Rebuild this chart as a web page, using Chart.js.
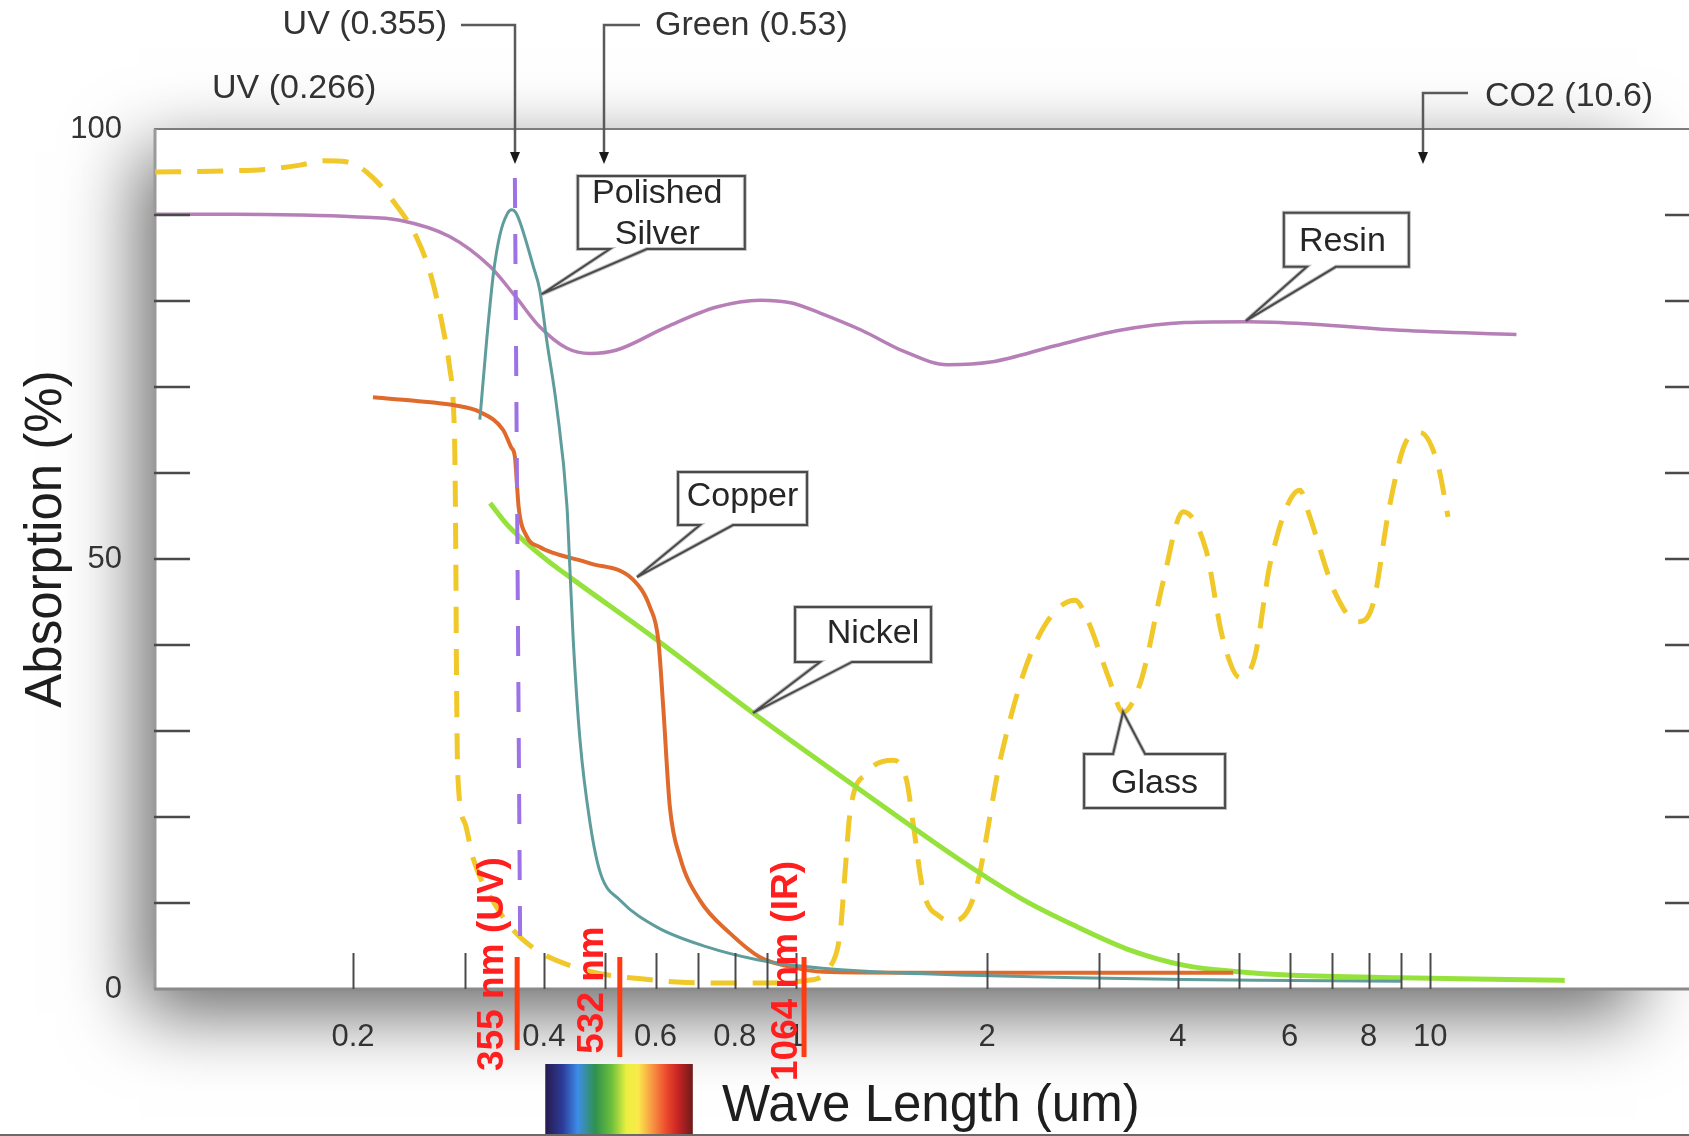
<!DOCTYPE html>
<html>
<head>
<meta charset="utf-8">
<title>Absorption vs Wave Length</title>
<script src="https://cdn.jsdelivr.net/npm/chart.js@4.4.1/dist/chart.umd.min.js"></script>
<style>
  html, body { margin: 0; padding: 0; background: #fff; overflow: hidden; }
  #wrap { width: 1689px; height: 1136px; }
</style>
</head>
<body>
<div id="wrap"><canvas id="absChart" width="1689" height="1136"></canvas></div>
<script>
// Wavelength (um) and absorption (%)
const glassWl = [0.0975, 0.12, 0.145, 0.165, 0.18, 0.195, 0.21, 0.231, 0.253, 0.266, 0.277, 0.284, 0.288, 0.2895, 0.2905, 0.2912, 0.2925, 0.3003, 0.309, 0.337, 0.371, 0.445, 0.603, 0.723, 0.868, 1.04, 1.131, 1.173, 1.194, 1.216, 1.292, 1.422, 1.493, 1.529, 1.585, 1.686, 1.768, 1.911, 2.108, 2.37, 2.754, 2.882, 3.117, 3.278, 3.504, 3.79, 4.076, 4.432, 4.7, 5.014, 5.284, 5.605, 6.232, 6.427, 7.087, 7.696, 8.128, 8.62, 9.14, 9.638, 10.28, 10.67]
const glassAbs = [95.0, 95.1, 95.3, 95.8, 96.3, 96.2, 95.0, 91.7, 87.1, 82.7, 77.0, 72.3, 67.7, 61.9, 50.0, 36.7, 25.1, 19.3, 15.3, 9.5, 5.7, 2.6, 1.0, 0.7, 0.7, 1.0, 2.6, 6.5, 13.5, 20.5, 25.1, 26.6, 24.3, 19.3, 11.5, 8.4, 7.9, 11.0, 27.3, 39.8, 45.2, 42.9, 36.0, 32.2, 36.0, 47.3, 55.5, 51.0, 41.0, 36.2, 38.5, 49.8, 58.0, 55.4, 46.0, 42.7, 44.8, 56.0, 63.5, 64.7, 61.0, 54.9]

const resinWl = [0.0975, 0.13, 0.165, 0.2, 0.237, 0.284, 0.329, 0.361, 0.394, 0.435, 0.473, 0.521, 0.625, 0.749, 0.877, 0.98, 1.091, 1.268, 1.483, 1.733, 2.027, 2.562, 3.24, 4.098, 5.18, 6.554, 8.964, 13.68]
const resinAbs = [90.1, 90.1, 90.0, 89.8, 89.4, 87.5, 84.0, 80.5, 77.0, 74.5, 73.9, 74.3, 77.0, 79.3, 80.1, 79.8, 78.6, 76.6, 74.1, 72.6, 72.9, 74.8, 76.6, 77.5, 77.6, 77.3, 76.6, 76.1]

const silverWl = [0.317, 0.325, 0.333, 0.341, 0.35, 0.356, 0.361, 0.367, 0.385, 0.394, 0.404, 0.419, 0.435, 0.439, 0.445, 0.456, 0.473, 0.491, 0.528, 0.603, 0.723, 0.868, 0.98, 1.268, 1.875, 2.772, 4.098, 6.06, 9.0]
const silverAbs = [66.2, 75.5, 83.2, 87.7, 90.1, 90.6, 90.3, 89.1, 84.0, 81.3, 75.5, 67.7, 56.1, 49.9, 40.6, 29.0, 19.3, 13.5, 10.3, 7.2, 4.9, 3.4, 2.8, 2.1, 1.6, 1.3, 1.1, 1.0, 0.9]

const copperWl = [0.215, 0.25, 0.288, 0.317, 0.345, 0.355, 0.36, 0.365, 0.376, 0.394, 0.414, 0.473, 0.553, 0.588, 0.606, 0.617, 0.632, 0.656, 0.705, 0.786, 0.877, 0.978, 1.102, 1.5, 2.5, 4.89]
const copperAbs = [68.8, 68.4, 67.9, 67.1, 65.0, 63.0, 61.9, 56.0, 52.6, 51.4, 50.7, 49.5, 47.6, 44.4, 40.6, 32.8, 21.2, 15.3, 10.3, 6.5, 3.7, 2.6, 2.0, 1.9, 1.9, 1.9]

const nickelWl = [0.329, 0.35, 0.371, 0.404, 0.445, 0.595, 0.855, 1.248, 1.813, 2.279, 2.772, 3.37, 4.098, 4.984, 6.06, 8.964, 13.25, 16.3]
const nickelAbs = [56.5, 54.0, 52.2, 49.9, 47.6, 40.9, 32.1, 23.4, 15.0, 10.4, 7.25, 4.5, 2.75, 2.0, 1.6, 1.3, 1.1, 1.0]

// dashed marker of the 0.355 um line
const uvLineWl = [0.36, 0.367]
const uvLineAbs = [94.3, 4.8]

const xTickMarks = [0.2, 0.3, 0.4, 0.5, 0.6, 0.7, 0.8, 0.9, 1, 2, 3, 4, 5, 6, 7, 8, 9, 10]
const xTickLabels = [0.2, 0.4, 0.6, 0.8, 1, 2, 4, 6, 8, 10]
const yTickMarks = [10, 20, 30, 40, 50, 60, 70, 80, 90]

const laserWl = [0.363, 0.527, 1.029]
const laserNames = ["355 nm (UV)", "532 nm", "1064 nm (IR)"]

const sourceWl = [0.36, 0.498, 9.74]
const sourceNames = ["UV (0.355)", "Green (0.53)", "CO2 (10.6)"]

const calloutNames = [["Polished", "Silver"], ["Copper"], ["Nickel"], ["Resin"], ["Glass"]]
const calloutWl = [0.397, 0.561, 0.855, 5.12, 3.278]
const calloutAbs = [80.8, 47.9, 32.1, 77.7, 32.2]

const visibleWl = [0.402, 0.687]

const FONT = "'Liberation Sans', Arial, Helvetica, sans-serif"

// layout of the hand-placed markup (pixels, relative to anchors)
const calloutLayout = [
  { dx: 36, dy: -118, w: 167, h: 73, b1: 68, b2: 105, side: "bottom", base: [27, 68], tdx: -4 },
  { dx: 41, dy: -105, w: 129, h: 53, b1: 63, b2: 96, side: "bottom", base: [34], tdx: 0 },
  { dx: 42, dy: -106, w: 136, h: 55, b1: 67, b2: 99, side: "bottom", base: [36], tdx: 10 },
  { dx: 38, dy: -108, w: 125, h: 54, b1: 61, b2: 90, side: "bottom", base: [38], tdx: -4 },
  { dx: -39, dy: 42, w: 141, h: 54, b1: -10, b2: 22, side: "top", base: [39], tdx: 0 },
]
const sourceLayout = [
  { lineTo: -54, lineY: 25, textX: -68, textY: 34, align: "right" },
  { lineTo: 36, lineY: 25, textX: 51, textY: 35, align: "left" },
  { lineTo: 45, lineY: 93, textX: 62, textY: 106, align: "left" },
]
const laserLayout = [
  { tx: -14, ty: -25, y2: 61 },
  { tx: -17, ty: 1, y2: 68 },
  { tx: -7, ty: -18, y2: 68 },
]

const toPts = (xs, ys) => xs.map((x, i) => ({ x, y: ys[i] }))

// Shadowed plot panel and frame
const framePlugin = {
  id: "frame",
  beforeDraw(chart) {
    const { ctx, chartArea: a } = chart
    ctx.save()
    ctx.fillStyle = "#fff"
    ctx.shadowColor = "rgba(0,0,0,0.6)"
    ctx.shadowBlur = 70
    ctx.shadowOffsetX = -14
    ctx.shadowOffsetY = 24
    ctx.fillRect(a.left, a.top, 1650 - a.left, a.bottom - a.top)
    ctx.restore()
    ctx.save()
    ctx.fillStyle = "#fff"
    ctx.fillRect(a.left, a.top, a.right - a.left, a.bottom - a.top)
    ctx.restore()
  },
  beforeDatasetsDraw(chart) {
    const { ctx, chartArea: a } = chart
    ctx.save()
    ctx.strokeStyle = "#7c7c7c"
    ctx.lineWidth = 2
    ctx.beginPath()
    ctx.moveTo(a.left, a.top)
    ctx.lineTo(a.right, a.top)
    ctx.stroke()
    ctx.strokeStyle = "#9a9a9a"
    ctx.lineWidth = 3
    ctx.beginPath()
    ctx.moveTo(a.left + 1, a.top)
    ctx.lineTo(a.left + 1, a.bottom)
    ctx.stroke()
    ctx.restore()
  },
}

function drawCallout(ctx, tip, c, lines) {
  const x1 = tip.x + c.dx, y1 = tip.y + c.dy
  const x2 = x1 + c.w, y2 = y1 + c.h
  const p1 = tip.x + c.b1, p2 = tip.x + c.b2
  ctx.save()
  ctx.beginPath()
  if (c.side === "top") {
    ctx.moveTo(x1, y1)
    ctx.lineTo(p1, y1)
    ctx.lineTo(tip.x, tip.y)
    ctx.lineTo(p2, y1)
    ctx.lineTo(x2, y1)
    ctx.lineTo(x2, y2)
    ctx.lineTo(x1, y2)
  } else {
    ctx.moveTo(x1, y1)
    ctx.lineTo(x2, y1)
    ctx.lineTo(x2, y2)
    ctx.lineTo(p2, y2)
    ctx.lineTo(tip.x, tip.y)
    ctx.lineTo(p1, y2)
    ctx.lineTo(x1, y2)
  }
  ctx.closePath()
  ctx.fillStyle = "#fff"
  ctx.fill()
  ctx.strokeStyle = "rgba(120,120,120,0.45)"
  ctx.lineWidth = 4
  ctx.stroke()
  ctx.strokeStyle = "#4a4a4a"
  ctx.lineWidth = 2
  ctx.stroke()
  ctx.fillStyle = "#262626"
  ctx.font = `34px ${FONT}`
  ctx.textAlign = "center"
  ctx.textBaseline = "alphabetic"
  lines.forEach((t, i) => ctx.fillText(t, (x1 + x2) / 2 + c.tdx, y1 + c.base[i]))
  ctx.restore()
}

// Ticks, laser marks, callouts, arrows, titles
const markupPlugin = {
  id: "markup",
  afterDraw(chart) {
    const { ctx, chartArea: a, scales } = chart
    const xs = scales.x, ys = scales.y
    ctx.save()

    // bottom axis line and inward ticks
    ctx.strokeStyle = "#8a8a8a"
    ctx.lineWidth = 3
    ctx.beginPath()
    ctx.moveTo(a.left, a.bottom)
    ctx.lineTo(a.right, a.bottom)
    ctx.stroke()

    ctx.strokeStyle = "#4a4a4a"
    ctx.lineWidth = 2
    xTickMarks.forEach((v) => {
      const px = Math.round(xs.getPixelForValue(v)) + 0.5
      ctx.beginPath()
      ctx.moveTo(px, a.bottom)
      ctx.lineTo(px, a.bottom - 36)
      ctx.stroke()
    })
    ctx.lineWidth = 2.5
    yTickMarks.forEach((v) => {
      const py = Math.round(ys.getPixelForValue(v))
      ctx.beginPath()
      ctx.moveTo(a.left, py)
      ctx.lineTo(a.left + 36, py)
      ctx.moveTo(a.right - 24, py)
      ctx.lineTo(a.right, py)
      ctx.stroke()
    })

    // callout boxes
    calloutNames.forEach((lines, i) => {
      const tip = { x: xs.getPixelForValue(calloutWl[i]), y: ys.getPixelForValue(calloutAbs[i]) }
      drawCallout(ctx, tip, calloutLayout[i], lines)
    })

    // laser source arrows at the top
    const tipY = a.top + 35
    ctx.font = `34px ${FONT}`
    ctx.textBaseline = "alphabetic"
    sourceNames.forEach((name, i) => {
      const l = sourceLayout[i]
      const px = Math.round(xs.getPixelForValue(sourceWl[i]))
      ctx.strokeStyle = "#5a5a5a"
      ctx.lineWidth = 2.5
      ctx.beginPath()
      ctx.moveTo(px + l.lineTo, l.lineY)
      ctx.lineTo(px, l.lineY)
      ctx.lineTo(px, tipY - 10)
      ctx.stroke()
      ctx.fillStyle = "#1a1a1a"
      ctx.beginPath()
      ctx.moveTo(px - 5, tipY - 12)
      ctx.lineTo(px + 5, tipY - 12)
      ctx.lineTo(px, tipY)
      ctx.closePath()
      ctx.fill()
      ctx.fillStyle = "#333"
      ctx.textAlign = l.align
      ctx.fillText(name, px + l.textX, l.textY)
    })
    ctx.textAlign = "left"
    ctx.fillText("UV (0.266)", 212, 98)

    // red laser wavelength marks
    laserNames.forEach((name, i) => {
      const l = laserLayout[i]
      const px = xs.getPixelForValue(laserWl[i])
      ctx.strokeStyle = "#ff3b12"
      ctx.lineWidth = 5
      ctx.beginPath()
      ctx.moveTo(px, a.bottom - 32)
      ctx.lineTo(px, a.bottom + l.y2)
      ctx.stroke()
      ctx.save()
      ctx.translate(px + l.tx, a.bottom + l.ty)
      ctx.rotate(-Math.PI / 2)
      ctx.fillStyle = "#ff1f1f"
      ctx.font = `bold 37px ${FONT}`
      ctx.textAlign = "center"
      ctx.textBaseline = "alphabetic"
      ctx.fillText(name, 0, 0)
      ctx.restore()
    })

    // visible spectrum strip
    const sx1 = xs.getPixelForValue(visibleWl[0])
    const sx2 = xs.getPixelForValue(visibleWl[1])
    const grad = ctx.createLinearGradient(sx1, 0, sx2, 0)
    grad.addColorStop(0, "#261a4f")
    grad.addColorStop(0.12, "#2d3c9a")
    grad.addColorStop(0.22, "#3d8de8")
    grad.addColorStop(0.34, "#2f914c")
    grad.addColorStop(0.45, "#6cc03c")
    grad.addColorStop(0.55, "#eaf040")
    grad.addColorStop(0.63, "#fbe94a")
    grad.addColorStop(0.72, "#f89a45")
    grad.addColorStop(0.82, "#ec4a2c")
    grad.addColorStop(0.9, "#c82424")
    grad.addColorStop(1, "#6e1a1a")
    ctx.fillStyle = grad
    ctx.fillRect(sx1, 1064, sx2 - sx1, 1136 - 1064)

    // bottom rule
    ctx.strokeStyle = "#6a6a6a"
    ctx.lineWidth = 2
    ctx.beginPath()
    ctx.moveTo(0, 1135)
    ctx.lineTo(chart.width, 1135)
    ctx.stroke()

    // axis titles
    ctx.fillStyle = "#1e1e1e"
    ctx.font = `51px ${FONT}`
    ctx.textAlign = "left"
    ctx.textBaseline = "alphabetic"
    ctx.fillText("Wave Length (um)", 722, 1121)
    ctx.save()
    ctx.translate(61, 539)
    ctx.rotate(-Math.PI / 2)
    ctx.textAlign = "center"
    ctx.fillText("Absorption (%)", 0, 0)
    ctx.restore()

    ctx.restore()
  },
}

new Chart(document.getElementById("absChart"), {
  type: "line",
  data: {
    datasets: [
      { label: "UV 0.355", data: toPts(uvLineWl, uvLineAbs), borderColor: "#9d72e6", borderWidth: 4, borderDash: [30, 26], tension: 0, cubicInterpolationMode: "default" },
      { label: "Polished Silver", data: toPts(silverWl, silverAbs), borderColor: "#5f9c9c", borderWidth: 3 },
      { label: "Copper", data: toPts(copperWl, copperAbs), borderColor: "#e06a2c", borderWidth: 4 },
      { label: "Nickel", data: toPts(nickelWl, nickelAbs), borderColor: "#96e23c", borderWidth: 5 },
      { label: "Resin", data: toPts(resinWl, resinAbs), borderColor: "#b77fb7", borderWidth: 3.5 },
      { label: "Glass", data: toPts(glassWl, glassAbs), borderColor: "#f0c82a", borderWidth: 5, borderDash: [26, 16] },
    ],
  },
  options: {
    responsive: false,
    animation: false,
    devicePixelRatio: 1,
    layout: { padding: { top: 129, right: 0, left: 0, bottom: 0 } },
    elements: {
      point: { radius: 0 },
      line: { cubicInterpolationMode: "monotone", fill: false, borderCapStyle: "butt" },
    },
    plugins: { legend: { display: false }, tooltip: { enabled: false } },
    scales: {
      x: {
        type: "logarithmic",
        min: 0.09707,
        max: 25.6,
        afterBuildTicks: (scale) => {
          scale.ticks = xTickLabels.map((v) => ({ value: v }))
        },
        ticks: {
          autoSkip: false,
          maxRotation: 0,
          padding: 30,
          color: "#333",
          font: { family: FONT, size: 31 },
          callback: (value) => String(value),
        },
        grid: { display: false, drawTicks: false },
        border: { display: false },
        afterFit: (scale) => {
          scale.height = 147
        },
      },
      y: {
        type: "linear",
        min: 0,
        max: 100,
        ticks: {
          stepSize: 50,
          padding: 32,
          color: "#333",
          font: { family: FONT, size: 31 },
        },
        grid: { display: false, drawTicks: false },
        border: { display: false },
        afterFit: (scale) => {
          scale.width = 154
        },
      },
    },
  },
  plugins: [framePlugin, markupPlugin],
})
</script>
</body>
</html>
